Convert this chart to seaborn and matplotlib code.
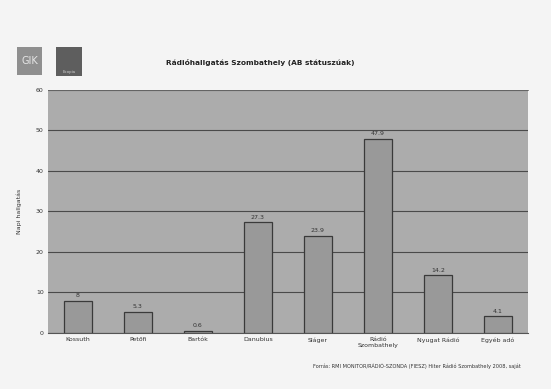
import matplotlib
matplotlib.use("Agg")
import matplotlib.pyplot as plt
import seaborn as sns
import pandas as pd
from matplotlib.patches import Rectangle

categories = ["Kossuth", "Petőfi", "Bartók", "Danubius", "Sláger",
              "Rádió\nSzombathely", "Nyugat Rádió", "Egyéb adó"]
values = [8.0, 5.3, 0.6, 27.3, 23.9, 47.9, 14.2, 4.1]
value_labels = ["8", "5.3", "0.6", "27.3", "23.9", "47.9", "14.2", "4.1"]
y_ticks = [0, 10, 20, 30, 40, 50, 60]

title = "Rádióhallgatás Szombathely (AB státuszúak)"
y_label = "Napi hallgatás"
source = "Forrás: RMI MONITOR/RÁDIÓ-SZONDA (FIESZ) Hiter Rádió Szombathely 2008, saját"

sns.set_theme(style="white")
plt.rcParams["font.family"] = ["DejaVu Sans"]

df = pd.DataFrame({"cat": categories, "val": values})

fig = plt.figure(figsize=(5.51, 3.89), dpi=100)
fig.patch.set_facecolor("#f4f4f4")
ax = fig.add_axes([0.087, 0.144, 0.871, 0.625])
ax.set_facecolor("#acacac")

sns.barplot(data=df, x="cat", y="val", color="#999999", width=0.47,
            edgecolor="#3a3a3a", linewidth=0.9, saturation=1, ax=ax, zorder=3)

ax.set_ylim(0, 60)
ax.set_yticks(y_ticks)
ax.set_yticklabels([str(t) for t in y_ticks], fontsize=4.5, color="#333333")
ax.yaxis.grid(True, color="#4a4a4a", linewidth=0.8, zorder=1)
ax.set_axisbelow(True)
ax.tick_params(axis="both", length=0, pad=3)
ax.set_xticks(range(len(categories)))
ax.set_xticklabels(categories, fontsize=4.5, color="#333333")
ax.set_xlabel("")
ax.set_ylabel(y_label, fontsize=4.5, color="#333333", labelpad=10)
for side in ["right"]:
    ax.spines[side].set_visible(False)
ax.spines["left"].set_visible(False)
ax.spines["top"].set_color("#6a6a6a")
ax.spines["top"].set_linewidth(0.6)
ax.spines["bottom"].set_color("#555555")
ax.spines["bottom"].set_linewidth(0.8)

ax.bar_label(ax.containers[0], labels=value_labels, fontsize=4.5,
             color="#333333", padding=2)

fig.text(0.472, 0.84, title, fontsize=5.3, color="#222222",
         ha="center", va="center", fontweight="semibold")
fig.text(0.945, 0.06, source, fontsize=3.6, color="#333333",
         ha="right", va="center")

# logos in the top-left corner
fig.patches.append(Rectangle((17 / 551, 1 - 75 / 389), 25 / 551, 28 / 389,
                             transform=fig.transFigure, facecolor="#8f8f8f",
                             edgecolor="none"))
fig.text(29.5 / 551, 1 - 61 / 389, "GIK", fontsize=7, color="#e6e6e6",
         ha="center", va="center")
fig.patches.append(Rectangle((56 / 551, 1 - 76 / 389), 26 / 551, 29 / 389,
                             transform=fig.transFigure, facecolor="#5e5e5e",
                             edgecolor="none"))
fig.text(69 / 551, 1 - 72 / 389, "Ecopia", fontsize=2.8, color="#d0d0d0",
         ha="center", va="center")

fig.savefig("out.png", dpi=100, facecolor=fig.get_facecolor())
